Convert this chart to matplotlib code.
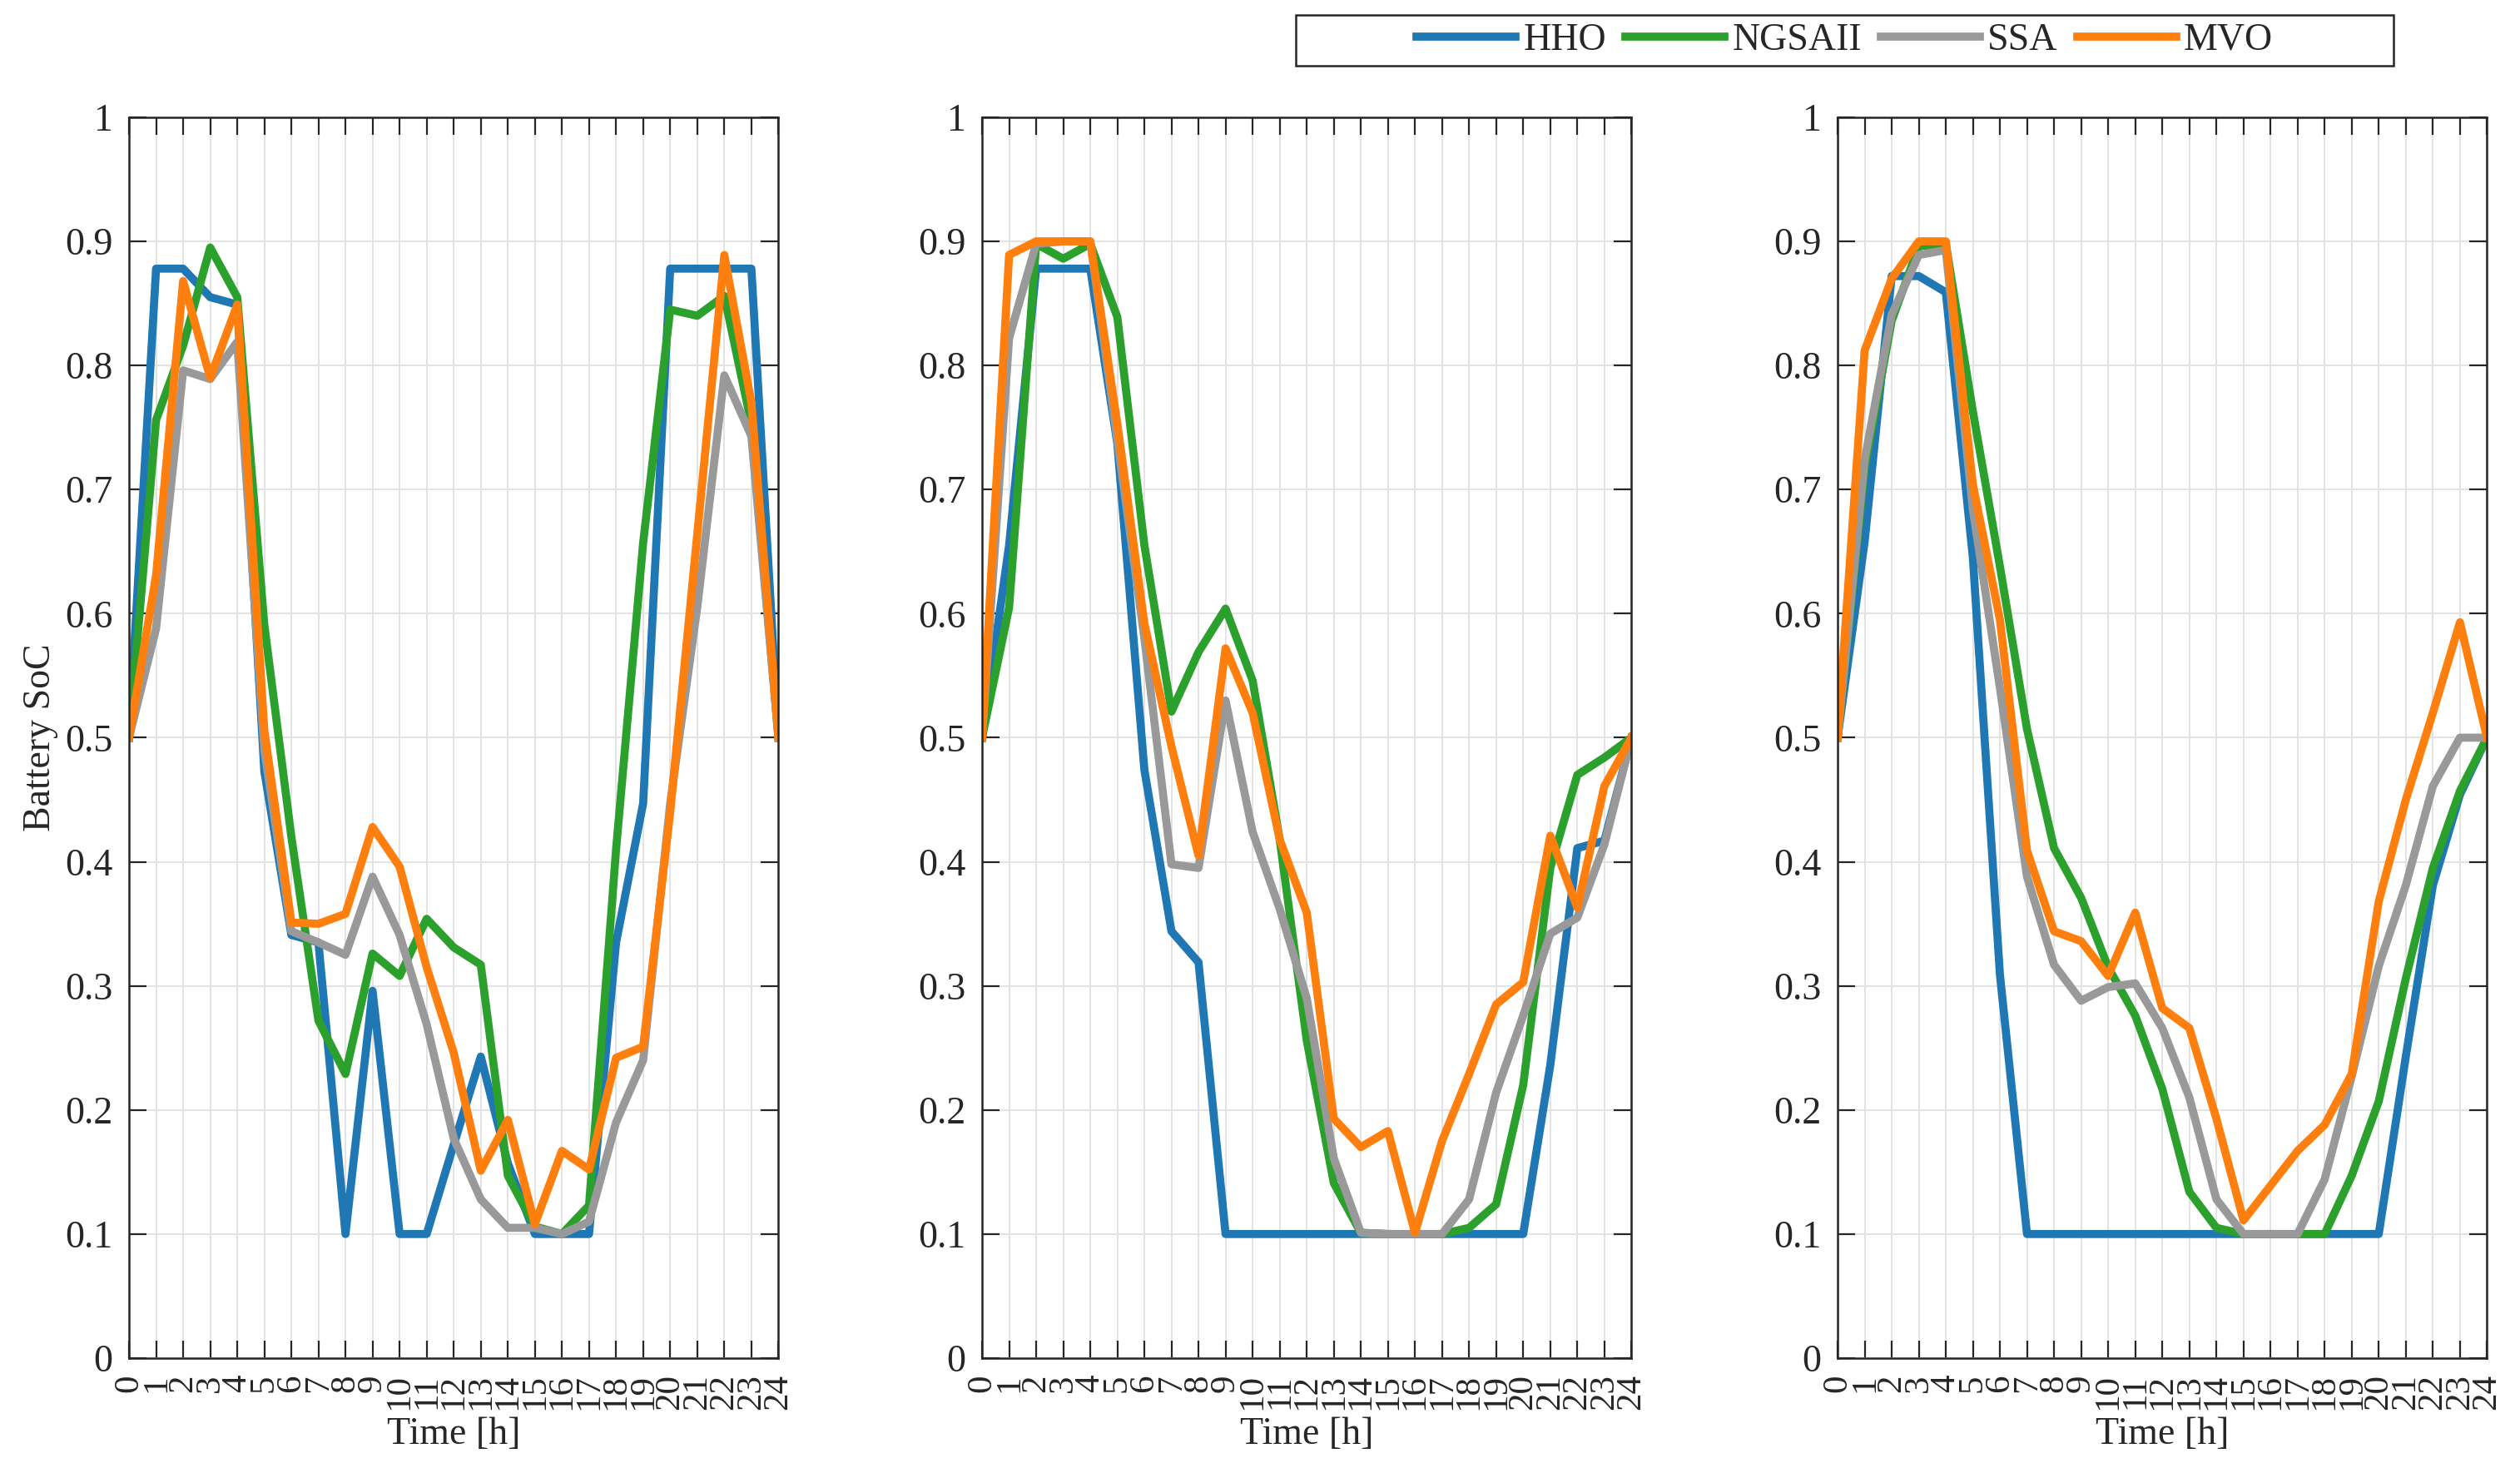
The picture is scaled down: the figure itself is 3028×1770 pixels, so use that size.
import numpy as np
import matplotlib
matplotlib.use("Agg")
import matplotlib.pyplot as plt
from matplotlib.patches import Rectangle

plt.rcParams['font.family'] = ['Liberation Serif', 'DejaVu Serif']

# Datos del SoC de la batería por hora (0..24) para cada escenario
horas = list(range(25))
metodos = ["HHO", "NGSAII", "SSA", "MVO"]
colores = ["#1f77b4", "#2ca02c", "#999999", "#ff7f0e"]

# Escenario 1
hho_1 = [0.5, 0.878, 0.878, 0.855, 0.849, 0.473, 0.341, 0.335, 0.1, 0.296, 0.1, 0.1, 0.172,
         0.243, 0.157, 0.1, 0.1, 0.1, 0.335, 0.447, 0.878, 0.878, 0.878, 0.878, 0.5]
ngsaii_1 = [0.5, 0.756, 0.816, 0.895, 0.855, 0.591, 0.42, 0.272, 0.229, 0.326, 0.308, 0.354, 0.331,
            0.317, 0.147, 0.106, 0.1, 0.123, 0.41, 0.657, 0.845, 0.84, 0.856, 0.753, 0.5]
ssa_1 = [0.5, 0.588, 0.796, 0.789, 0.819, 0.49, 0.344, 0.335, 0.325, 0.388, 0.341, 0.269, 0.177,
         0.128, 0.105, 0.105, 0.1, 0.11, 0.19, 0.24, 0.447, 0.605, 0.792, 0.743, 0.5]
mvo_1 = [0.5, 0.631, 0.868, 0.79, 0.849, 0.506, 0.351, 0.35, 0.358, 0.428, 0.396, 0.315, 0.246,
         0.151, 0.192, 0.108, 0.167, 0.152, 0.242, 0.251, 0.44, 0.664, 0.889, 0.77, 0.5]

# Escenario 2
hho_2 = [0.5, 0.655, 0.878, 0.878, 0.878, 0.737, 0.474, 0.344, 0.319, 0.1, 0.1, 0.1, 0.1,
         0.1, 0.1, 0.1, 0.1, 0.1, 0.1, 0.1, 0.1, 0.236, 0.411, 0.417, 0.5]
ngsaii_2 = [0.5, 0.605, 0.898, 0.886, 0.898, 0.839, 0.655, 0.521, 0.569, 0.604, 0.546, 0.418, 0.256,
            0.141, 0.101, 0.1, 0.1, 0.1, 0.105, 0.124, 0.22, 0.395, 0.47, 0.484, 0.5]
ssa_2 = [0.5, 0.822, 0.898, 0.9, 0.9, 0.74, 0.58, 0.398, 0.395, 0.53, 0.424, 0.362, 0.29,
         0.161, 0.101, 0.1, 0.1, 0.1, 0.128, 0.214, 0.276, 0.342, 0.355, 0.414, 0.5]
mvo_2 = [0.5, 0.889, 0.9, 0.9, 0.9, 0.753, 0.592, 0.493, 0.405, 0.572, 0.52, 0.418, 0.359,
         0.193, 0.17, 0.183, 0.101, 0.175, 0.229, 0.285, 0.303, 0.421, 0.363, 0.461, 0.5]

# Escenario 3
hho_3 = [0.5, 0.658, 0.872, 0.872, 0.859, 0.645, 0.309, 0.1, 0.1, 0.1, 0.1, 0.1, 0.1,
         0.1, 0.1, 0.1, 0.1, 0.1, 0.1, 0.1, 0.1, 0.243, 0.381, 0.454, 0.5]
ngsaii_3 = [0.5, 0.717, 0.836, 0.896, 0.898, 0.763, 0.638, 0.507, 0.411, 0.371, 0.315, 0.276, 0.217,
            0.134, 0.105, 0.1, 0.1, 0.1, 0.1, 0.147, 0.207, 0.306, 0.395, 0.457, 0.5]
ssa_3 = [0.5, 0.724, 0.841, 0.889, 0.893, 0.684, 0.54, 0.388, 0.317, 0.288, 0.299, 0.302, 0.266,
         0.21, 0.128, 0.1, 0.1, 0.1, 0.144, 0.227, 0.316, 0.381, 0.461, 0.5, 0.5]
mvo_3 = [0.5, 0.812, 0.87, 0.9, 0.9, 0.704, 0.595, 0.409, 0.344, 0.336, 0.308, 0.359, 0.282,
         0.266, 0.193, 0.111, 0.139, 0.167, 0.188, 0.229, 0.368, 0.45, 0.52, 0.593, 0.5]

escenarios = [
    [hho_1, ngsaii_1, ssa_1, mvo_1],
    [hho_2, ngsaii_2, ssa_2, mvo_2],
    [hho_3, ngsaii_3, ssa_3, mvo_3],
]

yticks = [0, 0.1, 0.2, 0.3, 0.4, 0.5, 0.6, 0.7, 0.8, 0.9, 1]
yticklabels = ["0", "0.1", "0.2", "0.3", "0.4", "0.5", "0.6", "0.7", "0.8", "0.9", "1"]

fs = 33
negro = "#262626"

fig = plt.figure(figsize=(30.28, 17.7), dpi=100)
lefts = [0.0512, 0.3897, 0.7292]
ancho = 0.2577
abajo = 0.078
alto = 0.8424

lineas = []
for i, datos in enumerate(escenarios):
    ax = fig.add_axes([lefts[i], abajo, ancho, alto])
    for serie, nombre, c in zip(datos, metodos, colores):
        l, = ax.plot(horas, serie, color=c, lw=7.0, label=nombre)
        if i == 0:
            lineas.append(l)
    ax.set_xlim(0, 24)
    ax.set_ylim(0, 1)
    ax.set_xticks(horas)
    ax.set_xticklabels([str(h) for h in horas], rotation=90, fontsize=31)
    ax.set_yticks(yticks)
    ax.set_yticklabels(yticklabels, fontsize=fs)
    ax.grid(True, color="#e3e3e3", lw=1.4)
    ax.set_axisbelow(True)
    ax.tick_params(direction="in", length=15, width=1.6, color=negro, labelcolor=negro,
                   top=True, right=True, pad=14)
    for s in ax.spines.values():
        s.set_linewidth(1.8)
        s.set_color(negro)
    ax.set_xlabel("Time [h]", fontsize=fs, color=negro, labelpad=6)
    if i == 0:
        ax.set_ylabel("Battery SoC", fontsize=fs, color=negro, labelpad=6)

# Leyenda con caja fija
caja = Rectangle((0.5142, 0.9554), 0.4356, 0.0345, transform=fig.transFigure,
                 fill=False, edgecolor=negro, lw=1.8)
fig.patches.append(caja)
fig.legend(lineas, metodos, loc="center", bbox_to_anchor=(0.5142 + 0.4356 / 2, 0.9554 + 0.0345 / 2),
           ncol=4, frameon=False, fontsize=fs, handlelength=2.6, handletextpad=0.2,
           columnspacing=0.5, borderpad=0, labelcolor=negro)

fig.savefig("out.png", dpi=100)
